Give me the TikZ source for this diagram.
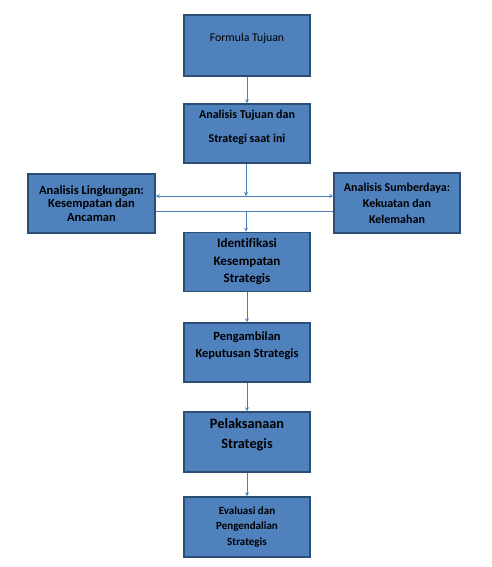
\documentclass[tikz,border=0pt]{standalone}
\usepackage{fontspec}
\setmainfont{Carlito}[Ligatures=CommonOff]
\usetikzlibrary{arrows.meta}
\definecolor{boxfill}{HTML}{4F81BD}
\definecolor{boxline}{HTML}{2C4D75}
\definecolor{arrowc}{HTML}{4A7EBB}
\begin{document}
\begin{tikzpicture}[x=1pt,y=1pt,
  box/.style={draw=boxline, fill=boxfill, line width=1.6pt, minimum width=126pt, minimum height=59pt, inner sep=0pt, align=center, text=black},
  conn/.style={draw=arrowc, line width=0.8pt},
  arr/.style={conn, -{Stealth[length=4pt,width=4pt]}}
]
\useasboundingbox (0,0) rectangle (491,-567);
\node[box, minimum height=61pt, font=\fontsize{11.8}{13}\selectfont] (f) at (247,-45.5) {Formula Tujuan\\[4pt]};
\node[box, font=\bfseries\fontsize{12}{24}\selectfont] (a) at (247,-133.5) {Analisis Tujuan dan\\Strategi saat ini\\[-10pt]};
\node[box, minimum width=127pt, font=\bfseries\fontsize{12.5}{13.5}\selectfont] (l) at (91.5,-203.5) {Analisis Lingkungan:\\Kesempatan dan\\Ancaman};
\node[box, minimum height=60pt, font=\bfseries\fontsize{12}{16}\selectfont] (r) at (397,-203) {Analisis Sumberdaya:\\Kekuatan dan\\Kelemahan};
\node[box, font=\bfseries\fontsize{13}{17.5}\selectfont] (k) at (247,-262) {Identifikasi\\Kesempatan\\Strategis};
\node[box, font=\bfseries\fontsize{12.5}{17}\selectfont] (p) at (247,-352.5) {Pengambilan\\Keputusan Strategis\\[-2pt]};
\node[box, minimum height=60pt, font=\bfseries\fontsize{14.3}{20}\selectfont] (s) at (247,-442) {Pelaksanaan\\Strategis\\[-2pt]};
\node[box, minimum height=60pt, font=\bfseries\fontsize{11}{15.5}\selectfont] (e) at (247,-527) {Evaluasi dan\\Pengendalian\\Strategis};
\coordinate (u) at (246,-196);
\coordinate (d) at (246,-211);
\draw[arr] (f) -- (a);
\draw[arr] (a.south -| u) -- (u);
\draw[conn, {Stealth[length=4pt,width=4pt]}-{Stealth[length=4pt,width=4pt]}] (l.east |- u) -- (r.west |- u);
\draw[conn] (l.east |- d) -- (r.west |- d);
\draw[arr] (d) -- (k.north -| d);
\draw[arr] (k) -- (p);
\draw[arr] (p) -- (s);
\draw[arr] (s) -- (e);
\end{tikzpicture}
\end{document}
